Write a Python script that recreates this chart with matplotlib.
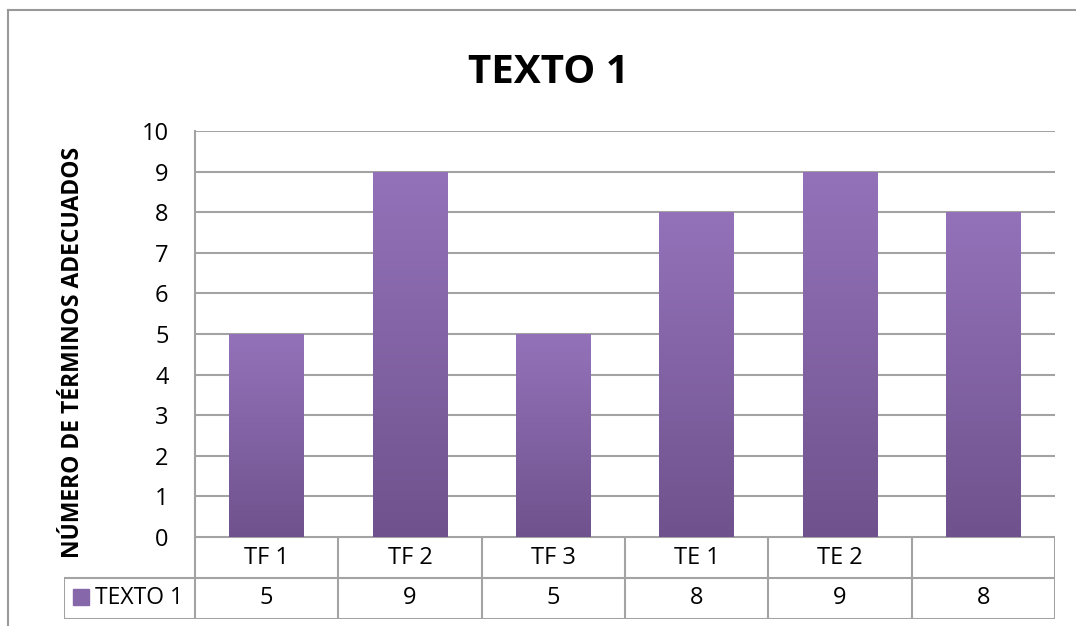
import numpy as np
import matplotlib
matplotlib.use("Agg")
import matplotlib.pyplot as plt
from matplotlib.lines import Line2D
from matplotlib.colors import LinearSegmentedColormap

plt.rcParams['font.family'] = ['Open Sans', 'DejaVu Sans']

categories = ["TF 1", "TF 2", "TF 3", "TE 1", "TE 2", ""]
values = [5, 9, 5, 8, 9, 8]
series_name = "TEXTO 1"
y_label = "NÚMERO DE TÉRMINOS ADECUADOS"

W, H = 1076, 626
grid_col = '#A3A3A3'
fig = plt.figure(figsize=(W / 100, H / 100), dpi=100)

# plot area
ax = fig.add_axes([195 / W, 1 - 537 / H, 860 / W, 406 / H])
x = np.arange(len(categories))
bars = ax.bar(x, values, width=0.52, color='#8064A2', zorder=2)

# vertical gradient, lighter on top
cmap = LinearSegmentedColormap.from_list('purp', ['#6F528D', '#9472BA'])
grad = np.linspace(0, 1, 256).reshape(-1, 1)
for b in bars:
    bx, by = b.get_x(), b.get_y()
    im = ax.imshow(grad, cmap=cmap, origin='lower', aspect='auto', zorder=3,
                   extent=[bx, bx + b.get_width(), by, by + b.get_height()])
    im.set_clip_path(b)
ax.set_xlim(-0.5, len(categories) - 0.5)
ax.set_ylim(0, 10)

ax.set_yticks(range(0, 11))
ax.yaxis.grid(True, color=grid_col, lw=1.5, zorder=0)
ax.set_axisbelow(True)
ax.set_xticks([])
ax.tick_params(axis='y', length=0, pad=19, labelsize=17)
for s in ['top', 'right', 'bottom']:
    ax.spines[s].set_visible(False)
ax.spines['left'].set_color(grid_col)
ax.spines['left'].set_linewidth(1.5)

# data table
left_px = 64
unit = 860 / len(categories)
tax = fig.add_axes([left_px / W, 1 - 619 / H, (1055 - left_px) / W, 82 / H])
x0 = -0.5 - (195 - left_px) / unit
xr = len(categories) - 0.5
tax.set_xlim(x0, xr)
tax.set_ylim(0, 2)
tax.axis('off')
kw = dict(color=grid_col, lw=1.5, solid_capstyle='projecting')
tax.plot([-0.5, xr], [2, 2], **kw)
tax.plot([x0, xr], [1, 1], **kw)
tax.plot([x0, xr], [0, 0], **kw)
tax.plot([x0, x0], [0, 1], **kw)
for i in range(len(categories) + 1):
    tax.plot([i - 0.5, i - 0.5], [0, 2], **kw)
for i, (c, v) in enumerate(zip(categories, values)):
    tax.text(i, 1.5, c, ha='center', va='center', fontsize=17)
    tax.text(i, 0.5, str(v), ha='center', va='center', fontsize=17)
# legend key in table
fig.patches.append(plt.Rectangle((73 / W, 1 - 605 / H), 16 / W, 16 / H,
                                 transform=fig.transFigure, color='#8668AA'))
fig.text(95 / W, 1 - 598.5 / H, series_name, ha='left', va='center', fontsize=16.5)

# titles
fig.text(548 / W, 1 - 83 / H, "TEXTO 1", ha='center', va='baseline',
         fontsize=29, fontweight='bold')
fig.text(73 / W, 1 - 352 / H, y_label, ha='center', va='center', rotation=90,
         fontsize=16.5, fontweight='bold')

# outer chart border
fig.add_artist(Line2D([8 / W, 8 / W], [0, 1 - 10 / H], color='#999999', lw=1.5,
                      transform=fig.transFigure))
fig.add_artist(Line2D([8 / W, 1], [1 - 10 / H, 1 - 10 / H], color='#999999', lw=1.5,
                      transform=fig.transFigure))

fig.savefig('out.png', dpi=100)
